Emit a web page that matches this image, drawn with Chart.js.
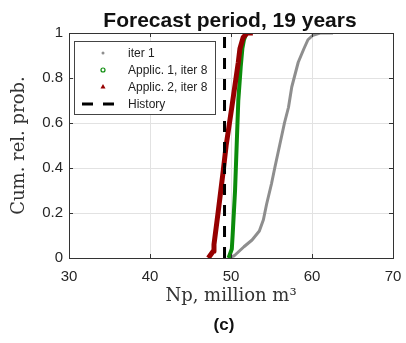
<!DOCTYPE html>
<html>
<head>
<meta charset="utf-8">
<script src="https://cdn.jsdelivr.net/npm/chart.js@4/dist/chart.umd.min.js"></script>
<style>
html, body { margin: 0; padding: 0; background: #fff; }
</style>
</head>
<body>
<canvas id="chart" width="406" height="343"></canvas>
<script>
// cumulative relative probability vs Np (million m3)
const probIter1 = [0, 0.01, 0.03, 0.05, 0.08, 0.12, 0.17, 0.24, 0.33, 0.40, 0.50, 0.60, 0.67, 0.76, 0.87, 0.93, 0.97, 0.99, 1.0, 1.0]
const npIter1 = [49.7, 50.4, 51.0, 51.6, 52.6, 53.5, 54.0, 54.4, 55.0, 55.4, 56.0, 56.6, 57.1, 57.5, 58.3, 59.0, 59.5, 60.1, 61.0, 62.6]

const probApplic1 = [0, 0.04, 0.10, 0.30, 0.50, 0.70, 0.85, 0.93, 0.97, 1.0]
const npApplic1 = [49.7, 50.1, 50.2, 50.5, 50.7, 50.9, 51.2, 51.4, 51.6, 51.9]

const probApplic2 = [0, 0.03, 0.06, 0.20, 0.39, 0.50, 0.67, 0.87, 0.93, 0.98, 1.0, 1.0]
const npApplic2 = [47.2, 47.8, 47.9, 48.4, 49.05, 49.4, 50.1, 50.9, 51.1, 51.5, 52.0, 52.7]

const historyNp = 49.2
const historyProb = [0, 1]

const xTicks = [30, 40, 50, 60, 70]
const yTicks = [0, 0.2, 0.4, 0.6, 0.8, 1]

const seriesNames = ['iter 1', 'Applic. 1, iter 8', 'Applic. 2, iter 8', 'History']
const titleText = 'Forecast period, 19 years'
const captionText = '(c)'

function toPoints(xs, ys) {
    return xs.map((x, i) => ({x: x, y: ys[i]}))
}

const tickFont = {family: 'Liberation Sans', size: 15}
const serifFont = {family: 'DejaVu Serif', size: 18}

// title, caption, box, inner ticks and legend
const decor = {
    id: 'decor',
    afterDraw(chart) {
        const ctx = chart.ctx
        const a = chart.chartArea
        const xs = chart.scales.x, ys = chart.scales.y
        ctx.save()
        ctx.fillStyle = '#111'
        ctx.textAlign = 'center'
        ctx.textBaseline = 'alphabetic'
        ctx.font = 'bold 21px "Liberation Sans"'
        ctx.fillText(titleText, 230, 27)
        ctx.font = 'bold 17px "Liberation Sans"'
        ctx.fillText(captionText, 224, 330)

        ctx.strokeStyle = '#333'
        ctx.lineWidth = 1
        ctx.beginPath()
        xTicks.forEach(v => {
            const p = Math.round(xs.getPixelForValue(v)) + 0.5
            ctx.moveTo(p, a.bottom); ctx.lineTo(p, a.bottom - 4)
            ctx.moveTo(p, a.top); ctx.lineTo(p, a.top + 4)
        })
        yTicks.forEach(v => {
            const p = Math.round(ys.getPixelForValue(v)) + 0.5
            ctx.moveTo(a.left, p); ctx.lineTo(a.left + 4, p)
            ctx.moveTo(a.right, p); ctx.lineTo(a.right - 4, p)
        })
        ctx.stroke()
        ctx.strokeRect(Math.round(a.left) + 0.5, Math.round(a.top) + 0.5, Math.round(a.right - a.left), Math.round(a.bottom - a.top))

        // legend box
        const lx = 74, ly = 41, lw = 141, lh = 73
        ctx.fillStyle = '#fff'
        ctx.fillRect(lx, ly, lw, lh)
        ctx.strokeStyle = '#444'
        ctx.strokeRect(lx + 0.5, ly + 0.5, lw, lh)
        const ds = chart.data.datasets
        ctx.font = '12px "Liberation Sans"'
        ctx.textAlign = 'left'
        ctx.textBaseline = 'middle'
        for (let i = 0; i < ds.length; i++) {
            const y = 53 + i * 17
            const mx = 103
            if (i === 0) {
                ctx.fillStyle = ds[i].borderColor
                ctx.beginPath(); ctx.arc(mx, y, 1.5, 0, Math.PI * 2); ctx.fill()
            } else if (i === 1) {
                ctx.strokeStyle = ds[i].borderColor
                ctx.lineWidth = 1.2
                ctx.beginPath(); ctx.arc(mx, y, 2, 0, Math.PI * 2); ctx.stroke()
            } else if (i === 2) {
                ctx.fillStyle = ds[i].borderColor
                ctx.beginPath(); ctx.moveTo(mx, y - 3); ctx.lineTo(mx + 2.5, y + 1.5); ctx.lineTo(mx - 2.5, y + 1.5); ctx.closePath(); ctx.fill()
            } else {
                ctx.strokeStyle = '#000'
                ctx.lineWidth = 3
                ctx.setLineDash([11, 10])
                ctx.beginPath(); ctx.moveTo(82, y); ctx.lineTo(114, y); ctx.stroke()
                ctx.setLineDash([])
            }
            ctx.fillStyle = '#222'
            ctx.fillText(ds[i].label, 128, y + 1)
        }
        ctx.restore()
    }
}

const data = {
    datasets: [
        {label: seriesNames[0], data: toPoints(npIter1, probIter1), borderColor: '#8e8e8e', borderWidth: 3, order: 3},
        {label: seriesNames[1], data: toPoints(npApplic1, probApplic1), borderColor: '#0b8c0b', borderWidth: 4, order: 2},
        {label: seriesNames[2], data: toPoints(npApplic2, probApplic2), borderColor: '#960000', borderWidth: 5, order: 1},
        {label: seriesNames[3], data: toPoints([historyNp, historyNp], historyProb), borderColor: '#000', borderWidth: 3, borderDash: [11, 10], order: 0}
    ]
}

const config = {
    type: 'line',
    data: data,
    options: {
        responsive: false,
        animation: false,
        layout: {padding: {left: 0, right: 13, top: 33, bottom: 35}},
        elements: {
            point: {radius: 0},
            line: {tension: 0, fill: false, borderCapStyle: 'butt', borderJoinStyle: 'round'}
        },
        plugins: {legend: {display: false}, tooltip: {enabled: false}},
        scales: {
            x: {
                type: 'linear', min: 30, max: 70,
                afterBuildTicks: s => { s.ticks = xTicks.map(v => ({value: v})) },
                afterFit: s => { s.height = 50; s.paddingLeft = 0; s.paddingRight = 0 },
                grid: {color: '#e2e2e2', drawTicks: false},
                border: {display: false},
                ticks: {font: tickFont, color: '#262626', padding: 10},
                title: {display: true, text: 'Np, million m³', font: serifFont, color: '#333', padding: {top: 0, bottom: 1}}
            },
            y: {
                type: 'linear', min: 0, max: 1,
                afterBuildTicks: s => { s.ticks = yTicks.map(v => ({value: v})) },
                afterFit: s => { s.width = 69; s.paddingTop = 0; s.paddingBottom = 0 },
                grid: {color: '#e2e2e2', drawTicks: false},
                border: {display: false},
                ticks: {font: tickFont, color: '#262626', padding: 6, callback: v => String(Number(v.toFixed(1)))},
                title: {display: true, text: 'Cum. rel. prob.', font: serifFont, color: '#333', padding: {top: 9, bottom: 0}}
            }
        }
    },
    plugins: [decor]
}

let ctx = document.getElementById('chart').getContext('2d')
new Chart(ctx, config)
</script>
</body>
</html>
